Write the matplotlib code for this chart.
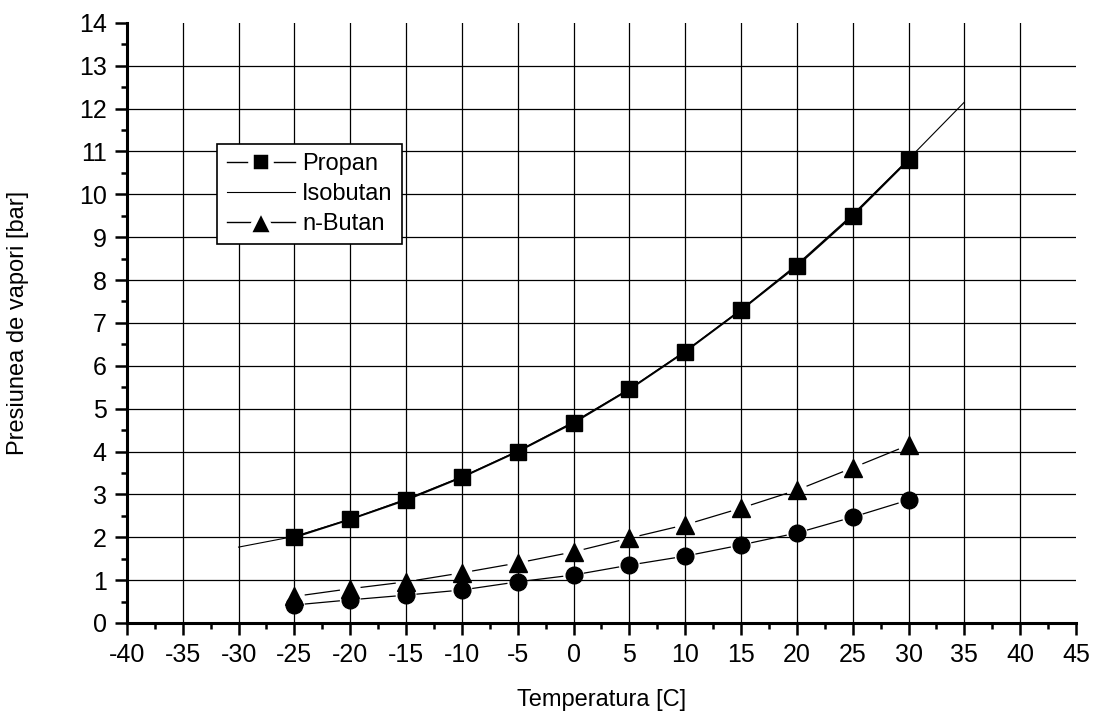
#!/usr/bin/env python3
"""Vapour pressure of propane / butanes against temperature."""

import matplotlib

matplotlib.use("Agg")
import matplotlib.pyplot as plt
import numpy as np
from matplotlib.lines import Line2D
from matplotlib.ticker import MultipleLocator


TEMPS = [-25, -20, -15, -10, -5, 0, 5, 10, 15, 20, 25, 30]
PROPAN = [2.0, 2.42, 2.87, 3.4, 4.0, 4.67, 5.45, 6.33, 7.3, 8.33, 9.5, 10.8]
N_BUTAN = [0.62, 0.8, 0.96, 1.17, 1.4, 1.66, 1.98, 2.29, 2.68, 3.1, 3.62, 4.15]
CIRCLES = [0.42, 0.54, 0.65, 0.77, 0.96, 1.12, 1.35, 1.56, 1.82, 2.1, 2.47, 2.87]

ISO_TEMPS = [-30, -25, -20, -15, -10, -5, 0, 5, 10, 15, 20, 25, 30, 35]
ISOBUTAN = [1.77, 2.02, 2.42, 2.89, 3.41, 4.01, 4.69, 5.46, 6.34, 7.31, 8.36, 9.53, 10.82, 12.15]

X_TICKS = list(range(-40, 50, 5))
Y_TICKS = list(range(0, 15))


def gapped_line(axis, xs, ys, gap_px=11, **kwargs):
    """Connect points with segments that stop short of the markers."""
    pts = axis.transData.transform(np.column_stack([xs, ys]))
    inv = axis.transData.inverted()
    for p0, p1 in zip(pts[:-1], pts[1:]):
        d = p1 - p0
        length = np.hypot(*d)
        if length <= 2 * gap_px:
            continue
        u = d / length
        a, b = inv.transform([p0 + u * gap_px, p1 - u * gap_px])
        axis.plot([a[0], b[0]], [a[1], b[1]], **kwargs)


plt.rcParams.update(
    {
        "font.family": ["Liberation Sans", "DejaVu Sans"],
        "axes.unicode_minus": False,
        "text.color": "black",
        "axes.labelcolor": "black",
    }
)

fig = plt.figure(figsize=(10.94, 7.12), dpi=100, facecolor="white")
ax = fig.add_axes([0.116, 0.125, 0.8676, 0.843])
ax.set_xlim(-40, 45)
ax.set_ylim(0, 14)

# grid drawn by hand: no line on 14 or at 45
for t in X_TICKS[1:-1]:
    ax.axvline(t, color="black", linewidth=0.9, zorder=1)
for v in Y_TICKS[1:-1]:
    ax.axhline(v, color="black", linewidth=0.9, zorder=1)

ax.plot(ISO_TEMPS, ISOBUTAN, color="black", linewidth=0.8, zorder=3)
ax.plot(TEMPS, PROPAN, color="black", linewidth=1.4, marker="s",
        markersize=11, zorder=4)

gapped_line(ax, TEMPS, N_BUTAN, color="black", linewidth=0.9, zorder=3)
ax.plot(TEMPS, N_BUTAN, linestyle="none", color="black", marker="^",
        markersize=12.5, zorder=4)
gapped_line(ax, TEMPS, CIRCLES, color="black", linewidth=0.9, zorder=3)
ax.plot(TEMPS, CIRCLES, linestyle="none", color="black", marker="o",
        markersize=12, zorder=4)

ax.set_xticks(X_TICKS)
ax.set_yticks(Y_TICKS)
ax.xaxis.set_minor_locator(MultipleLocator(2.5))
ax.yaxis.set_minor_locator(MultipleLocator(0.5))
ax.tick_params(which="major", direction="out", length=8.5, width=1.8,
               labelsize=18, pad=6)
ax.tick_params(which="minor", direction="out", length=4, width=1.8)
ax.spines[["top", "right"]].set_visible(False)
ax.spines[["left", "bottom"]].set_linewidth(2.2)

ax.set_xlabel("Temperatura [C]", fontsize=17, labelpad=16)
ax.set_ylabel("Presiunea de vapori [bar]", fontsize=17, labelpad=36)

handles = [
    Line2D([], [], color="black", linewidth=1.0, marker="s", markersize=15,
           markeredgecolor="white", markeredgewidth=4),
    Line2D([], [], color="black", linewidth=0.8),
    Line2D([], [], color="black", linewidth=1.0, marker="^", markersize=19,
           markeredgecolor="white", markeredgewidth=4),
]
leg = ax.legend(
    handles,
    ["Propan", "Isobutan", "n-Butan"],
    loc="upper left",
    bbox_to_anchor=(0.095, 0.798),
    fontsize=17,
    frameon=True,
    fancybox=False,
    framealpha=1,
    edgecolor="black",
    handlelength=2.9,
    handletextpad=0.3,
    labelspacing=0.33,
    borderpad=0.4,
    borderaxespad=0,
)
leg.get_frame().set_linewidth(1.2)
leg.set_zorder(6)

fig.savefig("out.png", dpi=100, facecolor="white")
